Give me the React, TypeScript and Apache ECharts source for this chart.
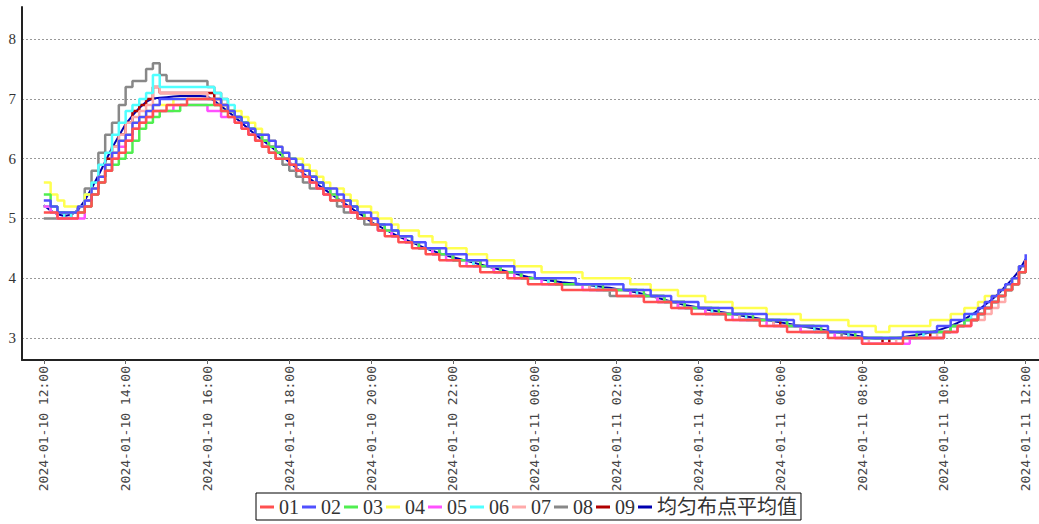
import React, { useEffect, useRef } from "react";
import * as echarts from "echarts";

// sampling: every 10 minutes from 2024-01-10 12:00 to 2024-01-11 12:00 (145 points)
const START_TIME = "2024-01-10T12:00:00";
const STEP_MINUTES = 10;
// x tick positions, in hours after START_TIME (labels 2024-01-10 12:00 ... 2024-01-11 12:00)
const TICK_HOURS = [0, 2, 4, 6, 8, 10, 12, 14, 16, 18, 20, 22, 24];
const Y_TICKS = [3, 4, 5, 6, 7, 8];

const NAMES = ["01", "02", "03", "04", "05", "06", "07", "08", "09", "均匀布点平均值"];
const COLORS = ["#ff5050", "#5050ff", "#50ee50", "#ffff50", "#ff50ff", "#50ffff", "#ffaaaa", "#888888", "#b00000", "#0000b0"];

const s01 = [
  5.1, 5.1, 5.0, 5.0, 5.0, 5.1,
  5.2, 5.4, 5.6, 5.8, 6.0, 6.1,
  6.3, 6.5, 6.6, 6.7, 6.8, 6.8,
  6.9, 6.9, 6.9, 7.0, 7.0, 7.0,
  7.0, 6.9, 6.8, 6.7, 6.6, 6.5,
  6.4, 6.3, 6.2, 6.1, 6.0, 6.0,
  5.9, 5.8, 5.7, 5.6, 5.5, 5.4,
  5.3, 5.3, 5.2, 5.1, 5.0, 5.0,
  4.9, 4.8, 4.7, 4.7, 4.6, 4.6,
  4.5, 4.5, 4.4, 4.4, 4.3, 4.3,
  4.3, 4.2, 4.2, 4.2, 4.1, 4.1,
  4.1, 4.1, 4.0, 4.0, 4.0, 3.9,
  3.9, 3.9, 3.9, 3.9, 3.8, 3.8,
  3.8, 3.8, 3.8, 3.8, 3.8, 3.8,
  3.7, 3.7, 3.7, 3.7, 3.6, 3.6,
  3.6, 3.6, 3.5, 3.5, 3.5, 3.4,
  3.4, 3.4, 3.4, 3.4, 3.3, 3.3,
  3.3, 3.3, 3.3, 3.2, 3.2, 3.2,
  3.2, 3.1, 3.1, 3.1, 3.1, 3.1,
  3.1, 3.0, 3.0, 3.0, 3.0, 3.0,
  2.9, 2.9, 2.9, 2.9, 2.9, 2.9,
  3.0, 3.0, 3.0, 3.0, 3.0, 3.0,
  3.1, 3.1, 3.2, 3.2, 3.3, 3.4,
  3.5, 3.6, 3.7, 3.8, 3.9, 4.1,
  4.3,
];
const s02 = [
  5.3, 5.2, 5.1, 5.1, 5.1, 5.2,
  5.3, 5.5, 5.7, 5.9, 6.1, 6.3,
  6.4, 6.6, 6.7, 6.8, 6.9, 7.0,
  7.0, 7.0, 7.0, 7.0, 7.0, 7.0,
  7.0, 7.0, 6.9, 6.8, 6.7, 6.6,
  6.5, 6.4, 6.4, 6.3, 6.2, 6.1,
  6.0, 5.9, 5.8, 5.7, 5.6, 5.5,
  5.5, 5.4, 5.3, 5.2, 5.1, 5.1,
  5.0, 4.9, 4.9, 4.8, 4.7, 4.7,
  4.6, 4.6, 4.5, 4.5, 4.5, 4.4,
  4.4, 4.4, 4.3, 4.3, 4.3, 4.2,
  4.2, 4.2, 4.2, 4.1, 4.1, 4.1,
  4.0, 4.0, 4.0, 4.0, 4.0, 4.0,
  3.9, 3.9, 3.9, 3.9, 3.9, 3.9,
  3.9, 3.8, 3.8, 3.8, 3.8, 3.7,
  3.7, 3.7, 3.6, 3.6, 3.6, 3.6,
  3.5, 3.5, 3.5, 3.5, 3.5, 3.4,
  3.4, 3.4, 3.4, 3.4, 3.3, 3.3,
  3.3, 3.3, 3.2, 3.2, 3.2, 3.2,
  3.2, 3.1, 3.1, 3.1, 3.1, 3.1,
  3.0, 3.0, 3.0, 3.0, 3.0, 3.0,
  3.1, 3.1, 3.1, 3.1, 3.1, 3.2,
  3.2, 3.3, 3.3, 3.4, 3.4, 3.5,
  3.6, 3.7, 3.8, 3.9, 4.0, 4.2,
  4.4,
];
const s03 = [
  5.4, 5.2, 5.1, 5.1, 5.1, 5.1,
  5.2, 5.4, 5.6, 5.8, 5.9, 6.0,
  6.1, 6.3, 6.5, 6.6, 6.7, 6.8,
  6.8, 6.8, 6.9, 6.9, 6.9, 6.9,
  6.9, 6.9, 6.8, 6.8, 6.7, 6.6,
  6.5, 6.4, 6.3, 6.2, 6.1, 6.0,
  6.0, 5.9, 5.8, 5.7, 5.6, 5.5,
  5.4, 5.3, 5.3, 5.2, 5.1, 5.0,
  4.9, 4.9, 4.8, 4.8, 4.7, 4.7,
  4.6, 4.5, 4.5, 4.5, 4.4, 4.4,
  4.3, 4.3, 4.3, 4.3, 4.2, 4.2,
  4.2, 4.1, 4.1, 4.1, 4.0, 4.0,
  4.0, 4.0, 4.0, 3.9, 3.9, 3.9,
  3.9, 3.9, 3.9, 3.9, 3.8, 3.8,
  3.8, 3.8, 3.8, 3.8, 3.7, 3.7,
  3.7, 3.6, 3.6, 3.6, 3.5, 3.5,
  3.5, 3.5, 3.5, 3.4, 3.4, 3.4,
  3.4, 3.4, 3.3, 3.3, 3.3, 3.3,
  3.3, 3.2, 3.2, 3.2, 3.2, 3.2,
  3.1, 3.1, 3.1, 3.1, 3.1, 3.0,
  3.0, 3.0, 3.0, 3.0, 3.0, 3.0,
  3.0, 3.0, 3.1, 3.1, 3.1, 3.1,
  3.1, 3.2, 3.2, 3.3, 3.3, 3.4,
  3.5, 3.6, 3.7, 3.8, 3.9, 4.1,
  4.2,
];
const s04 = [
  5.6, 5.4, 5.3, 5.2, 5.2, 5.2,
  5.4, 5.5, 5.7, 5.9, 6.1, 6.3,
  6.4, 6.6, 6.7, 6.8, 6.9, 6.9,
  6.9, 7.0, 7.0, 7.0, 7.0, 7.0,
  7.0, 7.0, 6.9, 6.8, 6.8, 6.7,
  6.6, 6.5, 6.4, 6.3, 6.2, 6.1,
  6.0, 6.0, 5.9, 5.8, 5.7, 5.6,
  5.5, 5.5, 5.4, 5.3, 5.2, 5.2,
  5.1, 5.0, 5.0, 4.9, 4.8, 4.8,
  4.8, 4.7, 4.7, 4.6, 4.6, 4.5,
  4.5, 4.5, 4.4, 4.4, 4.4, 4.3,
  4.3, 4.3, 4.3, 4.2, 4.2, 4.2,
  4.2, 4.1, 4.1, 4.1, 4.1, 4.1,
  4.1, 4.0, 4.0, 4.0, 4.0, 4.0,
  4.0, 4.0, 3.9, 3.9, 3.9, 3.8,
  3.8, 3.8, 3.8, 3.7, 3.7, 3.7,
  3.7, 3.6, 3.6, 3.6, 3.6, 3.5,
  3.5, 3.5, 3.5, 3.5, 3.4, 3.4,
  3.4, 3.4, 3.4, 3.3, 3.3, 3.3,
  3.3, 3.3, 3.3, 3.3, 3.2, 3.2,
  3.2, 3.2, 3.1, 3.1, 3.2, 3.2,
  3.2, 3.2, 3.2, 3.2, 3.3, 3.3,
  3.3, 3.4, 3.4, 3.5, 3.5, 3.6,
  3.7, 3.7, 3.8, 3.9, 4.0, 4.2,
  4.3,
];
const s05 = [
  5.2, 5.1, 5.0, 5.0, 5.0, 5.0,
  5.2, 5.4, 5.6, 5.8, 6.0, 6.2,
  6.3, 6.5, 6.6, 6.7, 6.8, 6.8,
  6.8, 6.9, 6.9, 6.9, 6.9, 6.9,
  6.8, 6.8, 6.7, 6.7, 6.6, 6.5,
  6.4, 6.3, 6.2, 6.2, 6.1, 6.0,
  5.9, 5.8, 5.7, 5.6, 5.5, 5.4,
  5.4, 5.3, 5.2, 5.1, 5.1, 5.0,
  4.9, 4.8, 4.8, 4.7, 4.7, 4.6,
  4.6, 4.5, 4.5, 4.4, 4.4, 4.3,
  4.3, 4.3, 4.2, 4.2, 4.2, 4.2,
  4.1, 4.1, 4.1, 4.0, 4.0, 4.0,
  4.0, 3.9, 3.9, 3.9, 3.9, 3.9,
  3.9, 3.8, 3.8, 3.8, 3.8, 3.8,
  3.8, 3.8, 3.7, 3.7, 3.7, 3.7,
  3.6, 3.6, 3.6, 3.5, 3.5, 3.5,
  3.5, 3.4, 3.4, 3.4, 3.4, 3.3,
  3.3, 3.3, 3.3, 3.3, 3.2, 3.2,
  3.2, 3.2, 3.2, 3.1, 3.1, 3.1,
  3.1, 3.1, 3.0, 3.0, 3.0, 3.0,
  2.9, 2.9, 2.9, 2.9, 2.9, 2.9,
  2.9, 3.0, 3.0, 3.0, 3.0, 3.0,
  3.1, 3.1, 3.2, 3.2, 3.3, 3.4,
  3.5, 3.6, 3.7, 3.8, 3.9, 4.1,
  4.3,
];
const s06 = [
  5.2, 5.1, 5.1, 5.0, 5.1, 5.2,
  5.4, 5.6, 5.9, 6.1, 6.4, 6.6,
  6.8, 6.9, 7.0, 7.1, 7.4, 7.2,
  7.2, 7.2, 7.2, 7.2, 7.2, 7.2,
  7.2, 7.1, 7.0, 6.9, 6.7, 6.6,
  6.5, 6.4, 6.3, 6.2, 6.1, 6.0,
  5.9, 5.8, 5.7, 5.6, 5.6, 5.5,
  5.4, 5.3, 5.2, 5.2, 5.1, 5.0,
  4.9, 4.9, 4.8, 4.8, 4.7, 4.6,
  4.6, 4.5, 4.5, 4.5, 4.4, 4.4,
  4.3, 4.3, 4.3, 4.2, 4.2, 4.2,
  4.2, 4.1, 4.1, 4.1, 4.0, 4.0,
  4.0, 4.0, 3.9, 3.9, 3.9, 3.9,
  3.9, 3.9, 3.9, 3.8, 3.8, 3.8,
  3.8, 3.8, 3.8, 3.7, 3.7, 3.7,
  3.7, 3.6, 3.6, 3.6, 3.5, 3.5,
  3.5, 3.5, 3.4, 3.4, 3.4, 3.4,
  3.4, 3.3, 3.3, 3.3, 3.3, 3.3,
  3.3, 3.2, 3.2, 3.2, 3.2, 3.1,
  3.1, 3.1, 3.1, 3.1, 3.0, 3.0,
  3.0, 3.0, 3.0, 3.0, 3.0, 3.0,
  3.0, 3.0, 3.0, 3.1, 3.1, 3.1,
  3.1, 3.2, 3.2, 3.3, 3.4, 3.4,
  3.5, 3.6, 3.7, 3.8, 4.0, 4.1,
  4.3,
];
const s07 = [
  5.2, 5.1, 5.0, 5.0, 5.1, 5.2,
  5.3, 5.5, 5.7, 5.9, 6.2, 6.4,
  6.6, 6.7, 6.8, 6.9, 7.2, 7.1,
  7.1, 7.1, 7.1, 7.1, 7.1, 7.1,
  7.0, 6.9, 6.9, 6.8, 6.7, 6.6,
  6.5, 6.4, 6.3, 6.2, 6.1, 6.0,
  5.9, 5.8, 5.8, 5.7, 5.6, 5.5,
  5.4, 5.3, 5.3, 5.2, 5.1, 5.0,
  5.0, 4.9, 4.8, 4.8, 4.7, 4.6,
  4.6, 4.5, 4.5, 4.4, 4.4, 4.4,
  4.3, 4.3, 4.3, 4.2, 4.2, 4.2,
  4.1, 4.1, 4.1, 4.1, 4.0, 4.0,
  4.0, 4.0, 3.9, 3.9, 3.9, 3.9,
  3.9, 3.9, 3.8, 3.8, 3.8, 3.8,
  3.8, 3.8, 3.7, 3.7, 3.7, 3.7,
  3.6, 3.6, 3.6, 3.6, 3.5, 3.5,
  3.5, 3.4, 3.4, 3.4, 3.4, 3.4,
  3.3, 3.3, 3.3, 3.3, 3.3, 3.2,
  3.2, 3.2, 3.2, 3.1, 3.1, 3.1,
  3.1, 3.1, 3.0, 3.0, 3.0, 3.0,
  3.0, 2.9, 2.9, 2.9, 2.9, 3.0,
  3.0, 3.0, 3.0, 3.0, 3.0, 3.1,
  3.1, 3.1, 3.2, 3.2, 3.3, 3.3,
  3.4, 3.5, 3.6, 3.8, 3.9, 4.1,
  4.3,
];
const s08 = [
  5.0, 5.0, 5.0, 5.0, 5.1, 5.2,
  5.5, 5.8, 6.1, 6.4, 6.6, 6.9,
  7.2, 7.3, 7.3, 7.5, 7.6, 7.4,
  7.3, 7.3, 7.3, 7.3, 7.3, 7.3,
  7.2, 7.1, 7.0, 6.8, 6.7, 6.6,
  6.4, 6.3, 6.2, 6.1, 6.0, 5.9,
  5.8, 5.7, 5.6, 5.5, 5.5, 5.4,
  5.3, 5.2, 5.1, 5.1, 5.0, 4.9,
  4.9, 4.8, 4.8, 4.7, 4.7, 4.6,
  4.6, 4.5, 4.5, 4.4, 4.4, 4.4,
  4.3, 4.3, 4.3, 4.2, 4.2, 4.2,
  4.1, 4.1, 4.1, 4.1, 4.0, 4.0,
  4.0, 4.0, 3.9, 3.9, 3.9, 3.9,
  3.9, 3.9, 3.8, 3.8, 3.8, 3.7,
  3.7, 3.7, 3.7, 3.7, 3.7, 3.7,
  3.6, 3.6, 3.6, 3.5, 3.5, 3.5,
  3.5, 3.4, 3.4, 3.4, 3.4, 3.4,
  3.3, 3.3, 3.3, 3.3, 3.3, 3.2,
  3.2, 3.2, 3.2, 3.1, 3.1, 3.1,
  3.1, 3.1, 3.1, 3.0, 3.0, 3.0,
  3.0, 3.0, 3.0, 3.0, 3.0, 3.0,
  3.0, 3.0, 3.0, 3.0, 3.0, 3.0,
  3.1, 3.2, 3.2, 3.3, 3.3, 3.4,
  3.5, 3.6, 3.7, 3.8, 3.9, 4.1,
  4.3,
];
const s09 = [
  5.2, 5.1, 5.1, 5.0, 5.1, 5.2,
  5.3, 5.5, 5.7, 6.0, 6.2, 6.4,
  6.6, 6.8, 6.9, 7.0, 7.2, 7.1,
  7.1, 7.1, 7.1, 7.1, 7.1, 7.1,
  7.1, 7.0, 6.9, 6.8, 6.7, 6.6,
  6.5, 6.4, 6.3, 6.2, 6.1, 6.0,
  5.9, 5.8, 5.8, 5.7, 5.6, 5.5,
  5.4, 5.3, 5.3, 5.2, 5.1, 5.0,
  4.9, 4.9, 4.8, 4.8, 4.7, 4.6,
  4.6, 4.5, 4.5, 4.5, 4.4, 4.4,
  4.3, 4.3, 4.3, 4.3, 4.2, 4.2,
  4.2, 4.1, 4.1, 4.1, 4.0, 4.0,
  4.0, 4.0, 4.0, 3.9, 3.9, 3.9,
  3.9, 3.9, 3.9, 3.8, 3.8, 3.8,
  3.8, 3.8, 3.8, 3.7, 3.7, 3.7,
  3.7, 3.6, 3.6, 3.6, 3.5, 3.5,
  3.5, 3.5, 3.4, 3.4, 3.4, 3.4,
  3.4, 3.3, 3.3, 3.3, 3.3, 3.3,
  3.2, 3.2, 3.2, 3.2, 3.2, 3.1,
  3.1, 3.1, 3.1, 3.1, 3.0, 3.0,
  3.0, 3.0, 3.0, 2.9, 3.0, 3.0,
  3.0, 3.0, 3.0, 3.0, 3.1, 3.1,
  3.1, 3.2, 3.2, 3.3, 3.3, 3.4,
  3.5, 3.6, 3.7, 3.8, 3.9, 4.1,
  4.3,
];
const sAvg = [
  5.22, 5.13, 5.07, 5.04, 5.06, 5.14,
  5.30, 5.50, 5.72, 5.95, 6.18, 6.38,
  6.58, 6.72, 6.85, 6.95, 7.01, 7.02,
  7.03, 7.04, 7.05, 7.05, 7.05, 7.05,
  7.04, 6.97, 6.88, 6.79, 6.70, 6.60,
  6.50, 6.41, 6.32, 6.23, 6.14, 6.04,
  5.94, 5.85, 5.76, 5.67, 5.58, 5.50,
  5.42, 5.34, 5.26, 5.18, 5.10, 5.03,
  4.94, 4.88, 4.82, 4.76, 4.70, 4.65,
  4.60, 4.55, 4.50, 4.46, 4.42, 4.38,
  4.35, 4.32, 4.29, 4.26, 4.23, 4.20,
  4.17, 4.14, 4.11, 4.08, 4.05, 4.02,
  4.00, 3.98, 3.96, 3.95, 3.93, 3.92,
  3.91, 3.90, 3.88, 3.87, 3.85, 3.84,
  3.82, 3.80, 3.78, 3.76, 3.73, 3.70,
  3.67, 3.64, 3.61, 3.58, 3.55, 3.53,
  3.51, 3.48, 3.46, 3.44, 3.42, 3.40,
  3.38, 3.36, 3.34, 3.32, 3.30, 3.28,
  3.26, 3.24, 3.22, 3.20, 3.18, 3.16,
  3.14, 3.12, 3.10, 3.08, 3.06, 3.04,
  3.02, 3.00, 2.99, 2.99, 2.99, 3.00,
  3.01, 3.03, 3.05, 3.07, 3.09, 3.12,
  3.16, 3.20, 3.25, 3.31, 3.38, 3.46,
  3.55, 3.64, 3.74, 3.86, 3.98, 4.12,
  4.32,
];

const SERIES_VALUES = [s01, s02, s03, s04, s05, s06, s07, s08, s09, sAvg];

function pad(n: number) {
  return n < 10 ? "0" + n : "" + n;
}

export default function App() {
  const ref = useRef<HTMLDivElement>(null);
  useEffect(() => {
    if (!ref.current) return;
    const chart = echarts.init(ref.current, null, { renderer: "svg" });
    const startMs = new Date(START_TIME).getTime();
    const stepH = STEP_MINUTES / 60;
    const hours = s01.map((_, i) => i * stepH);
    const fmtTime = (h: number) => {
      const d = new Date(startMs + Math.round(h * 3600000));
      return `${d.getFullYear()}-${pad(d.getMonth() + 1)}-${pad(d.getDate())} ${pad(d.getHours())}:${pad(d.getMinutes())}`;
    };

    const order = [9, 8, 7, 6, 5, 4, 3, 2, 1, 0];
    const series = order.map((idx) => ({
      name: NAMES[idx],
      type: "line",
      step: idx === 9 ? false : "end",
      showSymbol: false,
      symbol: "none",
      data: SERIES_VALUES[idx].map((v, i) => [hours[i], v]),
      lineStyle: { color: COLORS[idx], width: idx === 9 ? 2 : 2.5 },
      itemStyle: { color: COLORS[idx] },
      emphasis: { disabled: true },
    }));

    chart.setOption({
      animation: false,
      backgroundColor: "#ffffff",
      grid: { left: 22, right: 0, top: 7, bottom: 164, containLabel: false },
      legend: {
        data: NAMES,
        left: 256,
        top: 493,
        orient: "horizontal",
        icon: "rect",
        itemWidth: 14,
        itemHeight: 3,
        itemGap: 3,
        borderColor: "#000",
        borderWidth: 1,
        padding: [4, 4, 3, 4],
        selectedMode: false,
        textStyle: {
          fontFamily: "'Liberation Serif', 'Noto Sans CJK SC', serif",
          fontSize: 20,
          color: "#333",
        },
      },
      xAxis: {
        type: "value",
        min: -32 / 60,
        max: 24 + 19.5 / 60,
        axisLine: { show: true, onZero: false, lineStyle: { color: "#222", width: 2 } },
        axisTick: { show: true, customValues: TICK_HOURS, length: 4, lineStyle: { color: "#666" } },
        axisLabel: {
          customValues: TICK_HOURS,
          rotate: 90,
          formatter: (v: number) => fmtTime(v),
          fontFamily: "'DejaVu Sans Mono', monospace",
          fontSize: 13,
          color: "#444",
          margin: 6,
          showMinLabel: true,
          showMaxLabel: true,
        },
        splitLine: { show: false },
      },
      yAxis: {
        type: "value",
        min: 2.63,
        max: 8.54,
        axisLine: { show: true, onZero: false, lineStyle: { color: "#222", width: 2 } },
        axisTick: { show: false, customValues: Y_TICKS },
        axisLabel: {
          customValues: Y_TICKS,
          fontFamily: "'Liberation Serif', serif",
          fontSize: 15,
          color: "#333",
          margin: 6,
        },
        splitLine: { show: true, lineStyle: { color: "#999", type: [2, 2], width: 1 } },
      },
      series,
    });
    return () => chart.dispose();
  }, []);
  return (
    <div
      ref={ref}
      style={{ position: "fixed", left: 0, top: 0, width: "1039px", height: "524px" }}
    />
  );
}
